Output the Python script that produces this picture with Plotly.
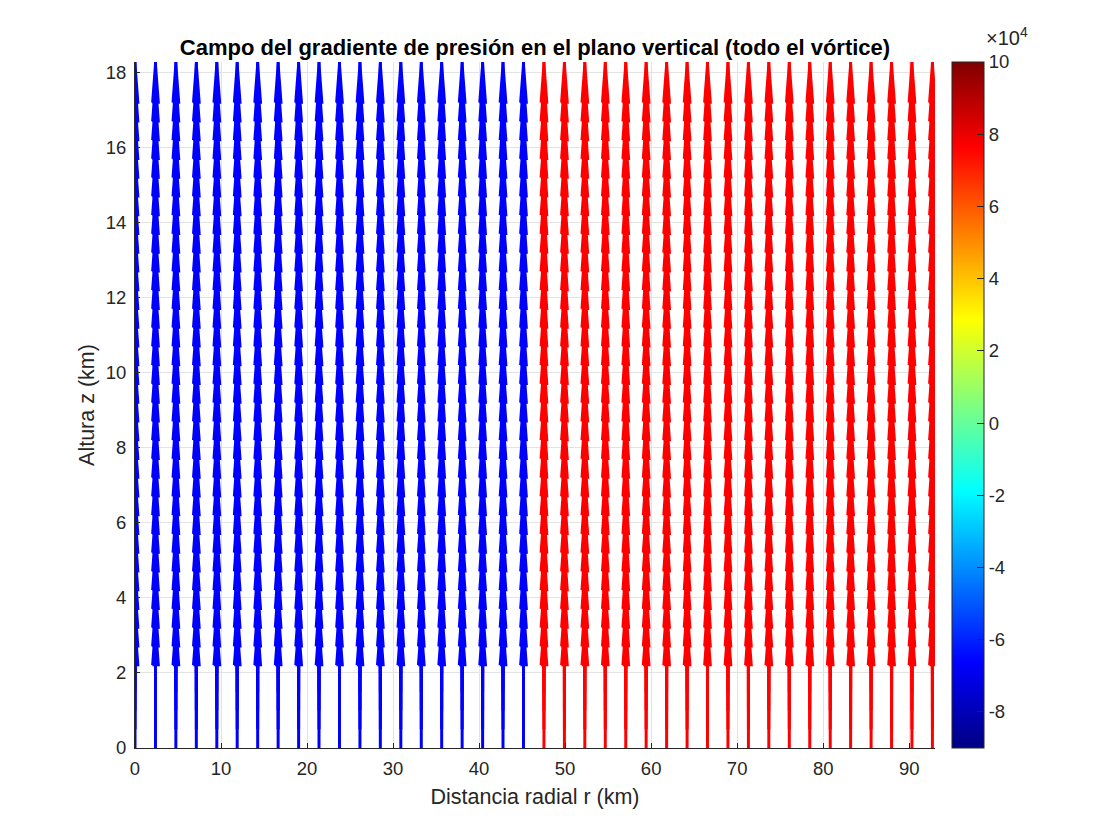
import plotly.graph_objects as go

# ---- data ----
r_km = [0.00, 2.38, 4.75, 7.13, 9.51, 11.88, 14.26, 16.64, 19.02, 21.39,
        23.77, 26.15, 28.52, 30.90, 33.28, 35.65, 38.03, 40.41, 42.78, 45.16,
        47.54, 49.92, 52.29, 54.67, 57.05, 59.42, 61.80, 64.18, 66.55, 68.93,
        71.31, 73.68, 76.06, 78.44, 80.82, 83.19, 85.57, 87.95, 90.32, 92.70]
z_km = [0.0, 0.5, 1.0, 1.5, 2.0, 2.5, 3.0, 3.5, 4.0, 4.5, 5.0, 5.5, 6.0, 6.5,
        7.0, 7.5, 8.0, 8.5, 9.0, 9.5, 10.0, 10.5, 11.0, 11.5, 12.0, 12.5,
        13.0, 13.5, 14.0, 14.5, 15.0]
# colour value of each column (Pa), sign gives blue / red
col_value = [-66000, -66000, -66000, -66000, -66000, -66000, -66000, -66000, -66000, -66000,
             -66000, -66000, -66000, -66000, -66000, -66000, -66000, -66000, -66000, -66000,
             76000, 76000, 76000, 76000, 76000, 76000, 76000, 76000, 76000, 76000,
             76000, 76000, 76000, 76000, 76000, 76000, 76000, 76000, 76000, 76000]
# normalised vertical component (all arrows point upward, equal length)
w_norm = [1.0] * len(z_km)
cbar_ticks = [-8, -6, -4, -2, 0, 2, 4, 6, 8, 10]
x_ticks = [0, 10, 20, 30, 40, 50, 60, 70, 80, 90]
y_ticks = [0, 2, 4, 6, 8, 10, 12, 14, 16, 18]

# ---- style ----
SCALE = 3.3          # quiver auto-scale length (km)
ALPHA, BETA = 0.33, 0.33
FONT = "Liberation Sans, Arial, Helvetica, sans-serif"
DARK = "#262626"
PAGE_OFF = 8         # default body margin of the html page

jet = [[0.0, "rgb(0,0,131)"], [0.125, "rgb(0,0,255)"], [0.375, "rgb(0,255,255)"],
       [0.625, "rgb(255,255,0)"], [0.875, "rgb(255,0,0)"], [1.0, "rgb(128,0,0)"]]


def quiver_xy(cols):
    sx, sy, hx, hy = [], [], [], []
    for i in cols:
        x0 = r_km[i]
        for j, z0 in enumerate(z_km):
            v = w_norm[j] * SCALE
            sx += [x0, x0, None]
            sy += [z0, z0 + v, None]
            hw = ALPHA * BETA * v
            hl = ALPHA * v
            hx += [x0 - hw, x0, x0 + hw, x0 - hw, None]
            hy += [z0 + v - hl, z0 + v, z0 + v - hl, z0 + v - hl, None]
    return sx, sy, hx, hy


fig = go.Figure()
neg = [i for i, c in enumerate(col_value) if c < 0]
pos = [i for i, c in enumerate(col_value) if c >= 0]
for cols, colr in ((neg, "#0000FF"), (pos, "#FF0000")):
    sx, sy, hx, hy = quiver_xy(cols)
    fig.add_trace(go.Scatter(x=sx, y=sy, mode="lines",
                             line=dict(color=colr, width=3),
                             hoverinfo="skip", showlegend=False))
    fig.add_trace(go.Scatter(x=hx, y=hy, mode="lines", fill="toself", fillcolor=colr,
                             line=dict(color=colr, width=2.5),
                             hoverinfo="skip", showlegend=False))

# colorbar carrier
fig.add_trace(go.Scatter(
    x=[0], y=[0], mode="markers", hoverinfo="skip", showlegend=False,
    marker=dict(size=0.1, opacity=0, color=[0], colorscale=jet, cmin=-9, cmax=10,
                showscale=True,
                colorbar=dict(x=(952 - 135) / 800, xanchor="left", xpad=0, ypad=0,
                              y=0.5, yanchor="middle", len=1, lenmode="fraction",
                              thickness=32, thicknessmode="pixels",
                              outlinewidth=1, outlinecolor=DARK,
                              tickvals=cbar_ticks, ticktext=[str(t) for t in cbar_ticks],
                              ticks="inside", ticklen=7, tickcolor=DARK,
                              tickfont=dict(family=FONT, size=18.5, color=DARK)))))

fig.update_layout(
    width=1120, height=840,
    margin=dict(l=135 - PAGE_OFF, r=185 + PAGE_OFF, t=62 - PAGE_OFF, b=92 + PAGE_OFF,
                autoexpand=False),
    paper_bgcolor="white", plot_bgcolor="white",
    title=dict(text="<b>Campo del gradiente de presión en el plano vertical (todo el vórtice)</b>",
               x=(535 - PAGE_OFF) / 1120, xanchor="center",
               y=1 - (47 - PAGE_OFF) / 840, yanchor="middle",
               font=dict(family=FONT, size=22, color="black")),
    font=dict(family=FONT, color=DARK),
    annotations=[dict(text="×10<sup>4</sup>", xref="paper", yref="paper",
                      x=(984 - 135) / 800, y=1.0, xanchor="left", yanchor="bottom",
                      yshift=11, showarrow=False,
                      font=dict(family=FONT, size=20, color=DARK))],
)
fig.update_xaxes(range=[0, 93], tickvals=x_ticks, ticks="inside", ticklen=5,
                 tickcolor=DARK, showline=True, linecolor=DARK, linewidth=1,
                 showgrid=True, gridcolor="#e3e3e3", gridwidth=1, zeroline=False,
                 automargin=False, ticklabelstandoff=4,
                 tickfont=dict(family=FONT, size=18.5, color=DARK),
                 title=dict(text="Distancia radial r (km)", standoff=10,
                            font=dict(family=FONT, size=21.5, color=DARK)))
fig.update_yaxes(range=[0, 18.29], tickvals=y_ticks, ticks="inside", ticklen=5,
                 tickcolor=DARK, showline=True, linecolor=DARK, linewidth=1,
                 showgrid=True, gridcolor="#e3e3e3", gridwidth=1, zeroline=False,
                 automargin=False, ticklabelstandoff=4,
                 tickfont=dict(family=FONT, size=18.5, color=DARK),
                 title=dict(text="Altura z (km)", standoff=5,
                            font=dict(family=FONT, size=21.5, color=DARK)))

fig.write_html("out.html")
